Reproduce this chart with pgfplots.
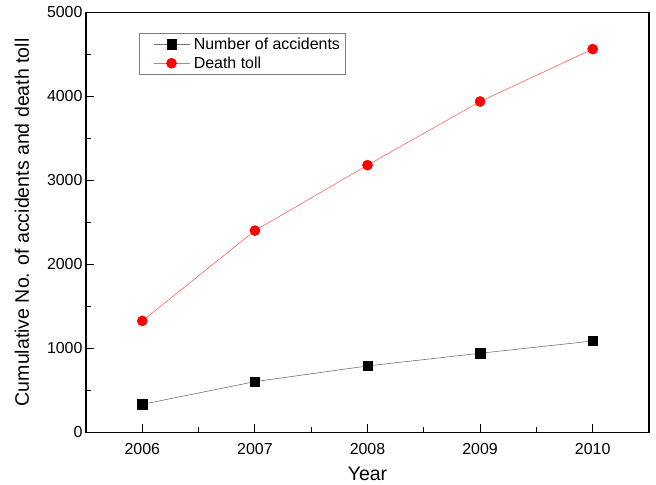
\documentclass[border=0pt]{standalone}
\usepackage{fontspec}
\setmainfont{Liberation Sans}
\usepackage{pgfplots}
\pgfplotsset{compat=1.18}
\begin{document}
\begin{tikzpicture}
\useasboundingbox (-86bp,-52.7bp) rectangle (570bp,432.3bp);
\begin{axis}[
  scale only axis,
  width=563bp, height=420bp,
  xmin=2005.5, xmax=2010.5,
  ymin=0, ymax=5000,
  xtick={2006,2007,2008,2009,2010},
  minor xtick={2006.5,2007.5,2008.5,2009.5},
  ytick={0,1000,2000,3000,4000,5000},
  minor ytick={500,1500,2500,3500,4500},
  xticklabels={2006,2007,2008,2009,2010},
  scaled ticks=false,
  /pgf/number format/assume math mode=true,
  yticklabel style={/pgf/number format/1000 sep={}},
  tick align=inside,
  xtick pos=bottom, ytick pos=left,
  major tick length=8bp, minor tick length=5bp,
  every tick/.style={black, line width=1.2pt},
  axis line style={line width=1.3pt},
  tick label style={font=\fontsize{16}{18}\selectfont},
  xticklabel style={yshift=-8bp},
  xlabel={Year}, ylabel={Cumulative No. of accidents and death toll},
  label style={font=\fontsize{19.6}{22}\selectfont},
  xlabel style={at={(axis description cs:0.5,-0.0993)}, anchor=center},
  ylabel style={at={(axis description cs:-0.1137,0.5)}, anchor=center},
  legend style={at={(0.094,0.951)}, anchor=north west, draw=gray, line width=0.6pt,
    font=\fontsize{16}{18}\selectfont, row sep=2bp, inner xsep=3bp, inner ysep=2.5bp},
  legend image code/.code={\path (0bp,0bp) (49bp,0bp);\draw[mark repeat=2,mark phase=2,#1] plot coordinates {(11bp,0bp)(29bp,0bp)(47bp,0bp)};},
  legend cell align=left,
]
\addplot[color=black!55, line width=0.6pt, mark=square*, mark size=4.7bp, mark options={fill=black, draw=black, solid}]
coordinates {(2006,333) (2007,603) (2008,790) (2009,941) (2010,1087)};
\addlegendentry{Number of accidents}
\addplot[color=red!60, line width=0.6pt, mark=*, mark size=5bp, mark options={fill=red, draw=red, solid}]
coordinates {(2006,1326) (2007,2401) (2008,3180) (2009,3938) (2010,4562)};
\addlegendentry{Death toll}
\end{axis}
\end{tikzpicture}
\end{document}
